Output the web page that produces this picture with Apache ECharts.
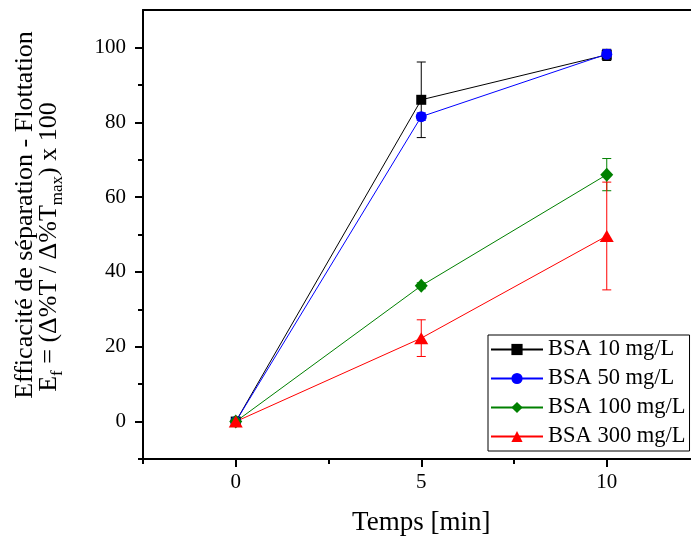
<!DOCTYPE html>
<html><head><meta charset="utf-8">
<script src="https://cdn.jsdelivr.net/npm/echarts@6/dist/echarts.min.js"></script>
<style>html,body{margin:0;padding:0;background:#fff}#c{width:691px;height:542px}</style>
</head><body><div id="c"></div>
<script>
const times = [0, 5, 10];
const seriesNames = ['BSA 10 mg/L', 'BSA 50 mg/L', 'BSA 100 mg/L', 'BSA 300 mg/L'];
const bsa10 = [0, 86.0, 98.0];
const bsa50 = [0, 81.5, 98.2];
const bsa100 = [0, 36.3, 66.0];
const bsa300 = [0, 22.3, 49.6];
const err10 = [0, 10.1, 1.5];
const err50 = [0, 1.0, 1.2];
const err100 = [0, 0.8, 4.3];
const err300 = [0, 4.9, 14.4];
const xMajorTicks = [0, 5, 10];
const xMinorTicks = [-2.5, 2.5, 7.5, 12.5];
const yMajorTicks = [0, 20, 40, 60, 80, 100];
const yMinorTicks = [-10, 10, 30, 50, 70, 90];
const xTitle = 'Temps [min]';
const yTitle1 = 'Efficacité de séparation - Flottation';
const yTitle2 = 'E{sub|f} = (Δ%T / Δ%T{sub|max}) x 100';

const FONT = '"Liberation Serif", "Times New Roman", serif';
const colors = ['#000000', '#0000ff', '#008000', '#ff0000'];
const symbols = ['rect', 'circle', 'diamond', 'triangle'];
const symbolSizes = [10, 11, [13, 14], [14, 12]];
const values = [bsa10, bsa50, bsa100, bsa300];
const errs = [err10, err50, err100, err300];
const axisLineStyle = {color: '#000', width: 2};

function errorSeries(i) {
  const color = colors[i];
  return {
    type: 'custom', name: seriesNames[i] + ' err', silent: true, z: 1,
    xAxisIndex: 0, yAxisIndex: 0,
    data: times.map((t, k) => [t, values[i][k], errs[i][k]]),
    encode: {x: 0, y: 1},
    renderItem: function (params, api) {
      const x = api.value(0), y = api.value(1), e = api.value(2);
      if (!e) return null;
      const top = api.coord([x, y + e]);
      const bot = api.coord([x, y - e]);
      const w = 4.5;
      const st = {stroke: color, lineWidth: 1};
      return {type: 'group', children: [
        {type: 'line', shape: {x1: top[0], y1: top[1], x2: bot[0], y2: bot[1]}, style: st},
        {type: 'line', shape: {x1: top[0] - w, y1: top[1], x2: top[0] + w, y2: top[1]}, style: st},
        {type: 'line', shape: {x1: bot[0] - w, y1: bot[1], x2: bot[0] + w, y2: bot[1]}, style: st}
      ]};
    }
  };
}
function lineSeries(i) {
  return {
    type: 'line', name: seriesNames[i], z: 3,
    xAxisIndex: 0, yAxisIndex: 0,
    data: times.map((t, k) => [t, values[i][k]]),
    symbol: symbols[i], symbolSize: symbolSizes[i], showAllSymbol: true,
    itemStyle: {color: colors[i]},
    lineStyle: {color: colors[i], width: 1}
  };
}

const chart = echarts.init(document.getElementById('c'), null, {renderer: 'canvas'});
chart.setOption({
  animation: false,
  backgroundColor: '#fff',
  grid: {left: 143, top: 10, width: 556.5, height: 449, containLabel: false, outerBoundsMode: 'none'},
  xAxis: [
    {type: 'value', min: -2.5, max: 12.5, position: 'bottom',
      axisLine: {show: true, onZero: false, lineStyle: axisLineStyle},
      axisTick: {show: true, customValues: xMajorTicks, length: 8, lineStyle: axisLineStyle},
      axisLabel: {customValues: xMajorTicks, fontSize: 21, fontFamily: FONT, color: '#000', margin: 13},
      splitLine: {show: false},
      name: xTitle, nameLocation: 'middle', nameGap: 50,
      nameTextStyle: {fontSize: 27, fontFamily: FONT, color: '#000'}},
    {type: 'value', min: -2.5, max: 12.5, position: 'bottom',
      axisLine: {show: false, onZero: false},
      axisTick: {show: true, customValues: xMinorTicks, length: 5, lineStyle: axisLineStyle},
      axisLabel: {show: false}, splitLine: {show: false}},
    {type: 'value', min: -2.5, max: 12.5, position: 'top',
      axisLine: {show: true, onZero: false, lineStyle: axisLineStyle},
      axisTick: {show: false}, axisLabel: {show: false}, splitLine: {show: false}}
  ],
  yAxis: [
    {type: 'value', min: -10, max: 110, position: 'left',
      axisLine: {show: true, onZero: false, lineStyle: axisLineStyle},
      axisTick: {show: true, customValues: yMajorTicks, length: 8, lineStyle: axisLineStyle},
      axisLabel: {customValues: yMajorTicks, fontSize: 21, fontFamily: FONT, color: '#000', margin: 17},
      splitLine: {show: false}},
    {type: 'value', min: -10, max: 110, position: 'left',
      axisLine: {show: false, onZero: false},
      axisTick: {show: true, customValues: yMinorTicks, length: 5, lineStyle: axisLineStyle},
      axisLabel: {show: false}, splitLine: {show: false}}
  ],
  legend: {
    data: seriesNames, orient: 'vertical', left: 488, top: 335,
    padding: [3, 4, 3, 2], itemGap: 6, itemWidth: 52, itemHeight: 14,
    borderColor: '#000', borderWidth: 1, borderRadius: 0, backgroundColor: '#fff',
    textStyle: {fontSize: 22.5, fontFamily: FONT, color: '#000'}
  },
  graphic: [
    {type: 'text', x: 25, y: 215, rotation: Math.PI / 2, z: 10,
      style: {text: yTitle1, fontSize: 26, fontFamily: FONT, fill: '#000', align: 'center', verticalAlign: 'middle'}},
    {type: 'text', x: 49, y: 247, rotation: Math.PI / 2, z: 10,
      style: {text: yTitle2, fontSize: 26, fontFamily: FONT, lineHeight: 34, fill: '#000', align: 'center', verticalAlign: 'middle',
        rich: {sub: {fontSize: 17, lineHeight: 17, verticalAlign: 'bottom', fontFamily: FONT, fill: '#000'}}}}
  ],
  series: [0, 1, 2, 3].map(errorSeries).concat([0, 1, 2, 3].map(lineSeries))
});
</script></body></html>
